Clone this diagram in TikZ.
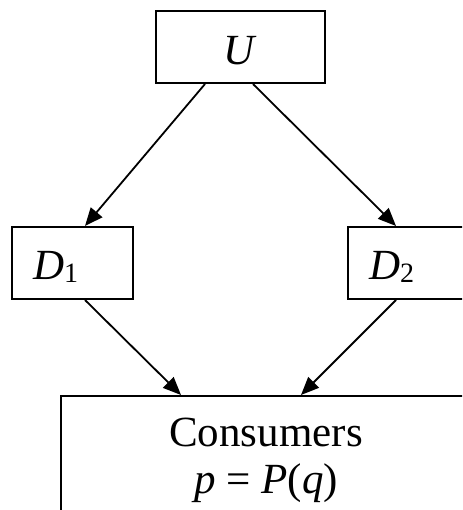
\documentclass[tikz,border=0pt]{standalone}
\usepackage{fontspec}
\setmainfont{Liberation Serif}
\usepackage{tikz}
\usetikzlibrary{arrows.meta}

\newcommand{\sub}[1]{\raisebox{-3pt}{\fontsize{28}{28}\selectfont #1}}

\begin{document}
\begin{tikzpicture}[x=1pt, y=-1pt, font=\fontsize{43}{47}\selectfont,
	box/.style = {draw, line width=2pt, inner sep=0pt},
	arr/.style = {-{Triangle[length=18pt, width=15pt]}, line width=1.8pt}]
	\useasboundingbox (0,0) rectangle (462,510);
	\clip (0,0) rectangle (462,510);
	\node [box, minimum width=169pt, text height=54pt, text depth=18pt] (u) at (240.5,47) {\textit{U}};
	\node [box, inner xsep=21pt, text height=52pt, text depth=20pt] (d1) at (72.5,263) {\makebox[79pt][l]{\textit{D}\sub{1}}};
	\node [box, inner xsep=21pt, text height=52pt, text depth=20pt] (d2) at (408.5,263) {\makebox[79pt][l]{\textit{D}\sub{2}}};
	\node [box, anchor=north west, minimum width=410pt, inner ysep=22pt, align=center] (cons) at (60,395) {Consumers\\\textit{p} = \textit{P}(\textit{q})};
	\draw [arr] ([xshift=-35.5pt]u.south) -- ([xshift=12.5pt]d1.north);
	\draw [arr] ([xshift=12.5pt]u.south) -- ([xshift=-12.5pt]d2.north);
	\draw [arr] ([xshift=12.5pt]d1.south) -- ([xshift=-85pt]cons.north);
	\draw [arr] ([xshift=-12.5pt]d2.south) -- ([xshift=35pt]cons.north);
\end{tikzpicture}
\end{document}
